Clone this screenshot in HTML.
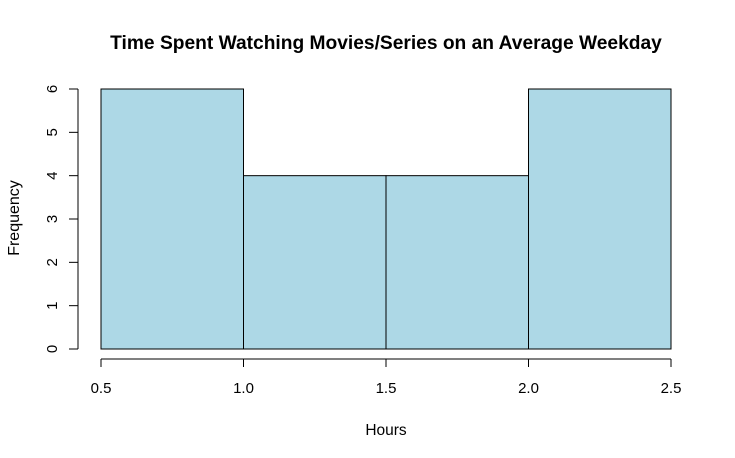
<!DOCTYPE html>
<html><head><meta charset="utf-8"><style>
body{margin:0;background:#fff}
svg{display:block;font-family:"Liberation Sans",Arial,sans-serif}
</style></head><body>
<svg id="chart" width="735" height="458">
<rect width="735" height="458" fill="#fff"/>
<text x="386" y="49" text-anchor="middle" font-size="19.2" font-weight="bold">Time Spent Watching Movies/Series on an Average Weekday</text>
<text x="386" y="435" text-anchor="middle" font-size="15.5">Hours</text>
<text transform="translate(19,218) rotate(-90)" text-anchor="middle" font-size="16">Frequency</text>
<g id="bars"></g><g id="xaxis"></g><g id="yaxis"></g>
</svg>
<script>
const binEdges=[0.5,1.0,1.5,2.0,2.5];
const counts=[6,4,4,6];
const xTicks=["0.5","1.0","1.5","2.0","2.5"];
const yTicks=[0,1,2,3,4,5,6];
const NS="http://www.w3.org/2000/svg";
const xs=v=>101+(v-0.5)*285;
const ys=v=>349-v*43.333;
function mk(t,a,p){const e=document.createElementNS(NS,t);for(const k in a)e.setAttribute(k,a[k]);p.appendChild(e);return e;}
const bars=document.getElementById('bars');
counts.forEach((c,i)=>{
 const r=mk('rect',{x:xs(binEdges[i]),y:ys(c),width:xs(binEdges[i+1])-xs(binEdges[i]),height:ys(0)-ys(c),fill:'#add8e6',stroke:'#000','stroke-width':1},bars);
 
 
});
const xa=document.getElementById('xaxis');
const xl=mk('line',{x1:xs(0.5),x2:xs(2.5),y1:359,y2:359,stroke:'#000'},xa);


xTicks.forEach(t=>{
 const v=parseFloat(t);
 mk('line',{x1:xs(v),x2:xs(v),y1:359,y2:367,stroke:'#000'},xa);
 const tx=mk('text',{x:xs(v),y:393,'text-anchor':'middle','font-size':15},xa);
 tx.textContent=t;
 
 
});
const ya=document.getElementById('yaxis');
const yl=mk('line',{x1:78,x2:78,y1:ys(6),y2:ys(0),stroke:'#000'},ya);


yTicks.forEach(v=>{
 mk('line',{x1:69,x2:78,y1:ys(v),y2:ys(v),stroke:'#000'},ya);
 const tx=mk('text',{transform:`translate(57,${ys(v)}) rotate(-90)`,'text-anchor':'middle','font-size':15},ya);
 tx.textContent=v;
 
 
});
</script>
</body></html>
